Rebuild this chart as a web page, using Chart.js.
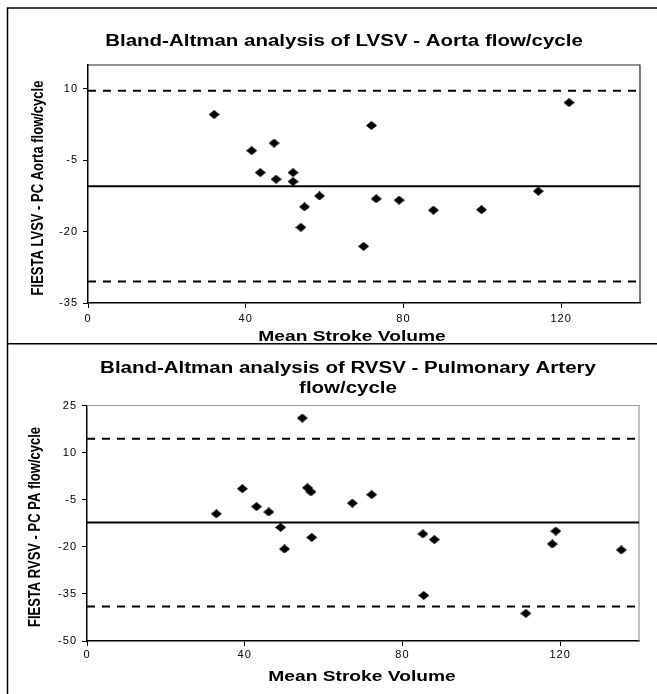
<!DOCTYPE html>
<html>
<head>
<meta charset="utf-8">
<script src="https://cdn.jsdelivr.net/npm/chart.js@4.4.1/dist/chart.umd.min.js"></script>
<style>
  body { margin: 0; background: #fff; width: 657px; height: 694px; overflow: hidden; position: relative; }
  canvas { position: absolute; left: 0; }
  #lvChart { top: 0; }
  #rvChart { top: 343px; }
</style>
</head>
<body>
<canvas id="lvChart" width="657" height="343"></canvas>
<canvas id="rvChart" width="657" height="351"></canvas>
<script>
// LVSV - aorta flow/cycle
const lvMean = [32.0, 41.5, 47.2, 43.7, 47.7, 52.0, 52.0, 58.7, 54.9, 54.0, 71.9, 122.0, 73.1, 78.9, 87.6, 99.8, 114.2, 69.9];
const lvDiff = [4.6, -3.0, -1.4, -7.6, -9.0, -7.6, -9.5, -12.5, -14.8, -19.1, 2.3, 7.1, -13.1, -13.4, -15.5, -15.4, -11.5, -23.1];
const lvLimits = [9.6, -10.45, -30.5];   // upper, mean, lower
const lvYTicks = [-35, -20, -5, 10];
const lvYRange = [-35, 15];

// RVSV - pulmonary artery flow/cycle
const rvMean = [54.6, 32.8, 39.4, 43.0, 46.1, 49.1, 50.1, 55.9, 56.8, 57.0, 67.3, 72.2, 85.2, 88.1, 85.4, 111.3, 118.0, 118.9, 135.5];
const rvDiff = [21.0, -9.5, -1.5, -7.2, -8.9, -13.8, -20.7, -1.2, -2.5, -17.0, -6.1, -3.4, -15.9, -17.7, -35.5, -41.2, -19.1, -15.0, -21.0];
const rvLimits = [14.4, -12.3, -39.0];
const rvYTicks = [-50, -35, -20, -5, 10, 25];
const rvYRange = [-50, 25];

const xTicks = [0, 40, 80, 120];
const xRange = [0, 140];

const FONT = '"Liberation Sans", Arial, sans-serif';
const SX = 1.28; // the original picture is stretched sideways

// small squashed diamond marker
function diamond(w, h) {
  const c = document.createElement('canvas');
  c.width = w; c.height = h;
  const g = c.getContext('2d');
  g.fillStyle = '#000';
  g.beginPath();
  g.moveTo(w / 2, 0); g.lineTo(w, h / 2); g.lineTo(w / 2, h); g.lineTo(0, h / 2);
  g.closePath(); g.fill();
  return c;
}
const mark = diamond(11, 9);

function wideText(ctx, text, x, y, rotate) {
  ctx.save();
  ctx.translate(x, y);
  if (rotate) { ctx.rotate(-Math.PI / 2); ctx.scale(1, SX); }
  else ctx.scale(SX, 1);
  ctx.fillText(text, 0, 0);
  ctx.restore();
}

const frameText = {
  id: 'frameText',
  beforeDraw(chart) {
    chart.ctx.letterSpacing = '1px';
  },
  beforeDatasetsDraw(chart, args, o) {
    const {ctx, chartArea: a} = chart;
    ctx.save();
    ctx.strokeStyle = o.plotBorder;
    ctx.lineWidth = 1.2;
    ctx.beginPath();
    ctx.moveTo(a.left, a.top); ctx.lineTo(a.right, a.top); ctx.lineTo(a.right, a.bottom);
    ctx.stroke();
    ctx.restore();
  },
  afterDraw(chart, args, o) {
    const ctx = chart.ctx;
    ctx.save();
    ctx.letterSpacing = '0px';
    ctx.strokeStyle = '#000';
    ctx.lineWidth = 1.5;
    ctx.beginPath();
    ctx.moveTo(o.frameLeft, chart.height);
    ctx.lineTo(o.frameLeft, o.frameTop);
    ctx.lineTo(chart.width, o.frameTop);
    ctx.stroke();

    ctx.fillStyle = '#000';
    ctx.textAlign = 'center';
    ctx.textBaseline = 'middle';
    ctx.font = 'bold 16px ' + FONT;
    o.title.forEach((t, i) => wideText(ctx, t, o.titleX, o.titleY + i * 20, false));
    ctx.font = 'bold 15px ' + FONT;
    wideText(ctx, o.xTitle, o.xTitleX, o.xTitleY, false);
    ctx.font = 'bold 13px ' + FONT;
    wideText(ctx, o.yTitle, o.yTitleX, o.yTitleY, true);
    ctx.restore();
  }
};

function makeChart(id, cfg) {
  const pts = cfg.xs.map((x, i) => ({x: x, y: cfg.ys[i]}));
  const limitLine = (y, dash) => ({
    type: 'line',
    data: [{x: xRange[0], y: y}, {x: xRange[1], y: y}],
    borderColor: '#000',
    borderWidth: 2,
    borderDash: dash,
    pointRadius: 0,
    fill: false
  });
  const tickFont = {family: FONT, size: 11};

  return new Chart(document.getElementById(id), {
    type: 'scatter',
    data: {
      datasets: [
        {data: pts, pointStyle: mark, pointRadius: 5, backgroundColor: '#000', borderWidth: 0},
        limitLine(cfg.limits[0], [8, 7]),
        limitLine(cfg.limits[1], []),
        limitLine(cfg.limits[2], [8, 7])
      ]
    },
    options: {
      responsive: false,
      animation: false,
      layout: {padding: cfg.padding},
      plugins: {
        legend: {display: false},
        tooltip: {enabled: false},
        frameText: cfg.text
      },
      scales: {
        x: {
          type: 'linear',
          min: xRange[0],
          max: xRange[1],
          afterBuildTicks: s => { s.ticks = xTicks.map(v => ({value: v})); },
          afterFit: s => { s.height = cfg.xHeight; },
          grid: {drawOnChartArea: false, tickLength: 5, color: '#000'},
          border: {color: '#000', width: 1.5},
          ticks: {color: '#000', font: tickFont, padding: cfg.xPad, maxRotation: 0}
        },
        y: {
          type: 'linear',
          min: cfg.yRange[0],
          max: cfg.yRange[1],
          afterBuildTicks: s => { s.ticks = cfg.yTicks.map(v => ({value: v})); },
          afterFit: s => { s.width = cfg.yWidth; },
          grid: {drawOnChartArea: false, tickLength: 5, color: '#000'},
          border: {color: '#000', width: 1.5},
          ticks: {color: '#000', font: tickFont, padding: 5}
        }
      }
    },
    plugins: [frameText]
  });
}

makeChart('lvChart', {
  xs: lvMean, ys: lvDiff, limits: lvLimits, yTicks: lvYTicks, yRange: lvYRange,
  padding: {left: 0, right: 17, top: 65, bottom: 0},
  yWidth: 88, xHeight: 40, xPad: 4,
  text: {
    frameLeft: 7.5, frameTop: 8,
    plotBorder: '#222',
    title: ['Bland-Altman analysis of LVSV - Aorta flow/cycle'], titleX: 344, titleY: 42,
    xTitle: 'Mean Stroke Volume', xTitleX: 352, xTitleY: 337,
    yTitle: 'FIESTA LVSV - PC Aorta flow/cycle', yTitleX: 38, yTitleY: 188
  }
});

makeChart('rvChart', {
  xs: rvMean, ys: rvDiff, limits: rvLimits, yTicks: rvYTicks, yRange: rvYRange,
  padding: {left: 0, right: 18, top: 62.5, bottom: 0},
  yWidth: 87, xHeight: 53, xPad: 2,
  text: {
    frameLeft: 7.5, frameTop: 0.75,
    plotBorder: '#999',
    title: ['Bland-Altman analysis of RVSV - Pulmonary Artery', 'flow/cycle'], titleX: 348, titleY: 26,
    xTitle: 'Mean Stroke Volume', xTitleX: 362, xTitleY: 334,
    yTitle: 'FIESTA RVSV - PC PA flow/cycle', yTitleX: 35, yTitleY: 184
  }
});
</script>
</body>
</html>
